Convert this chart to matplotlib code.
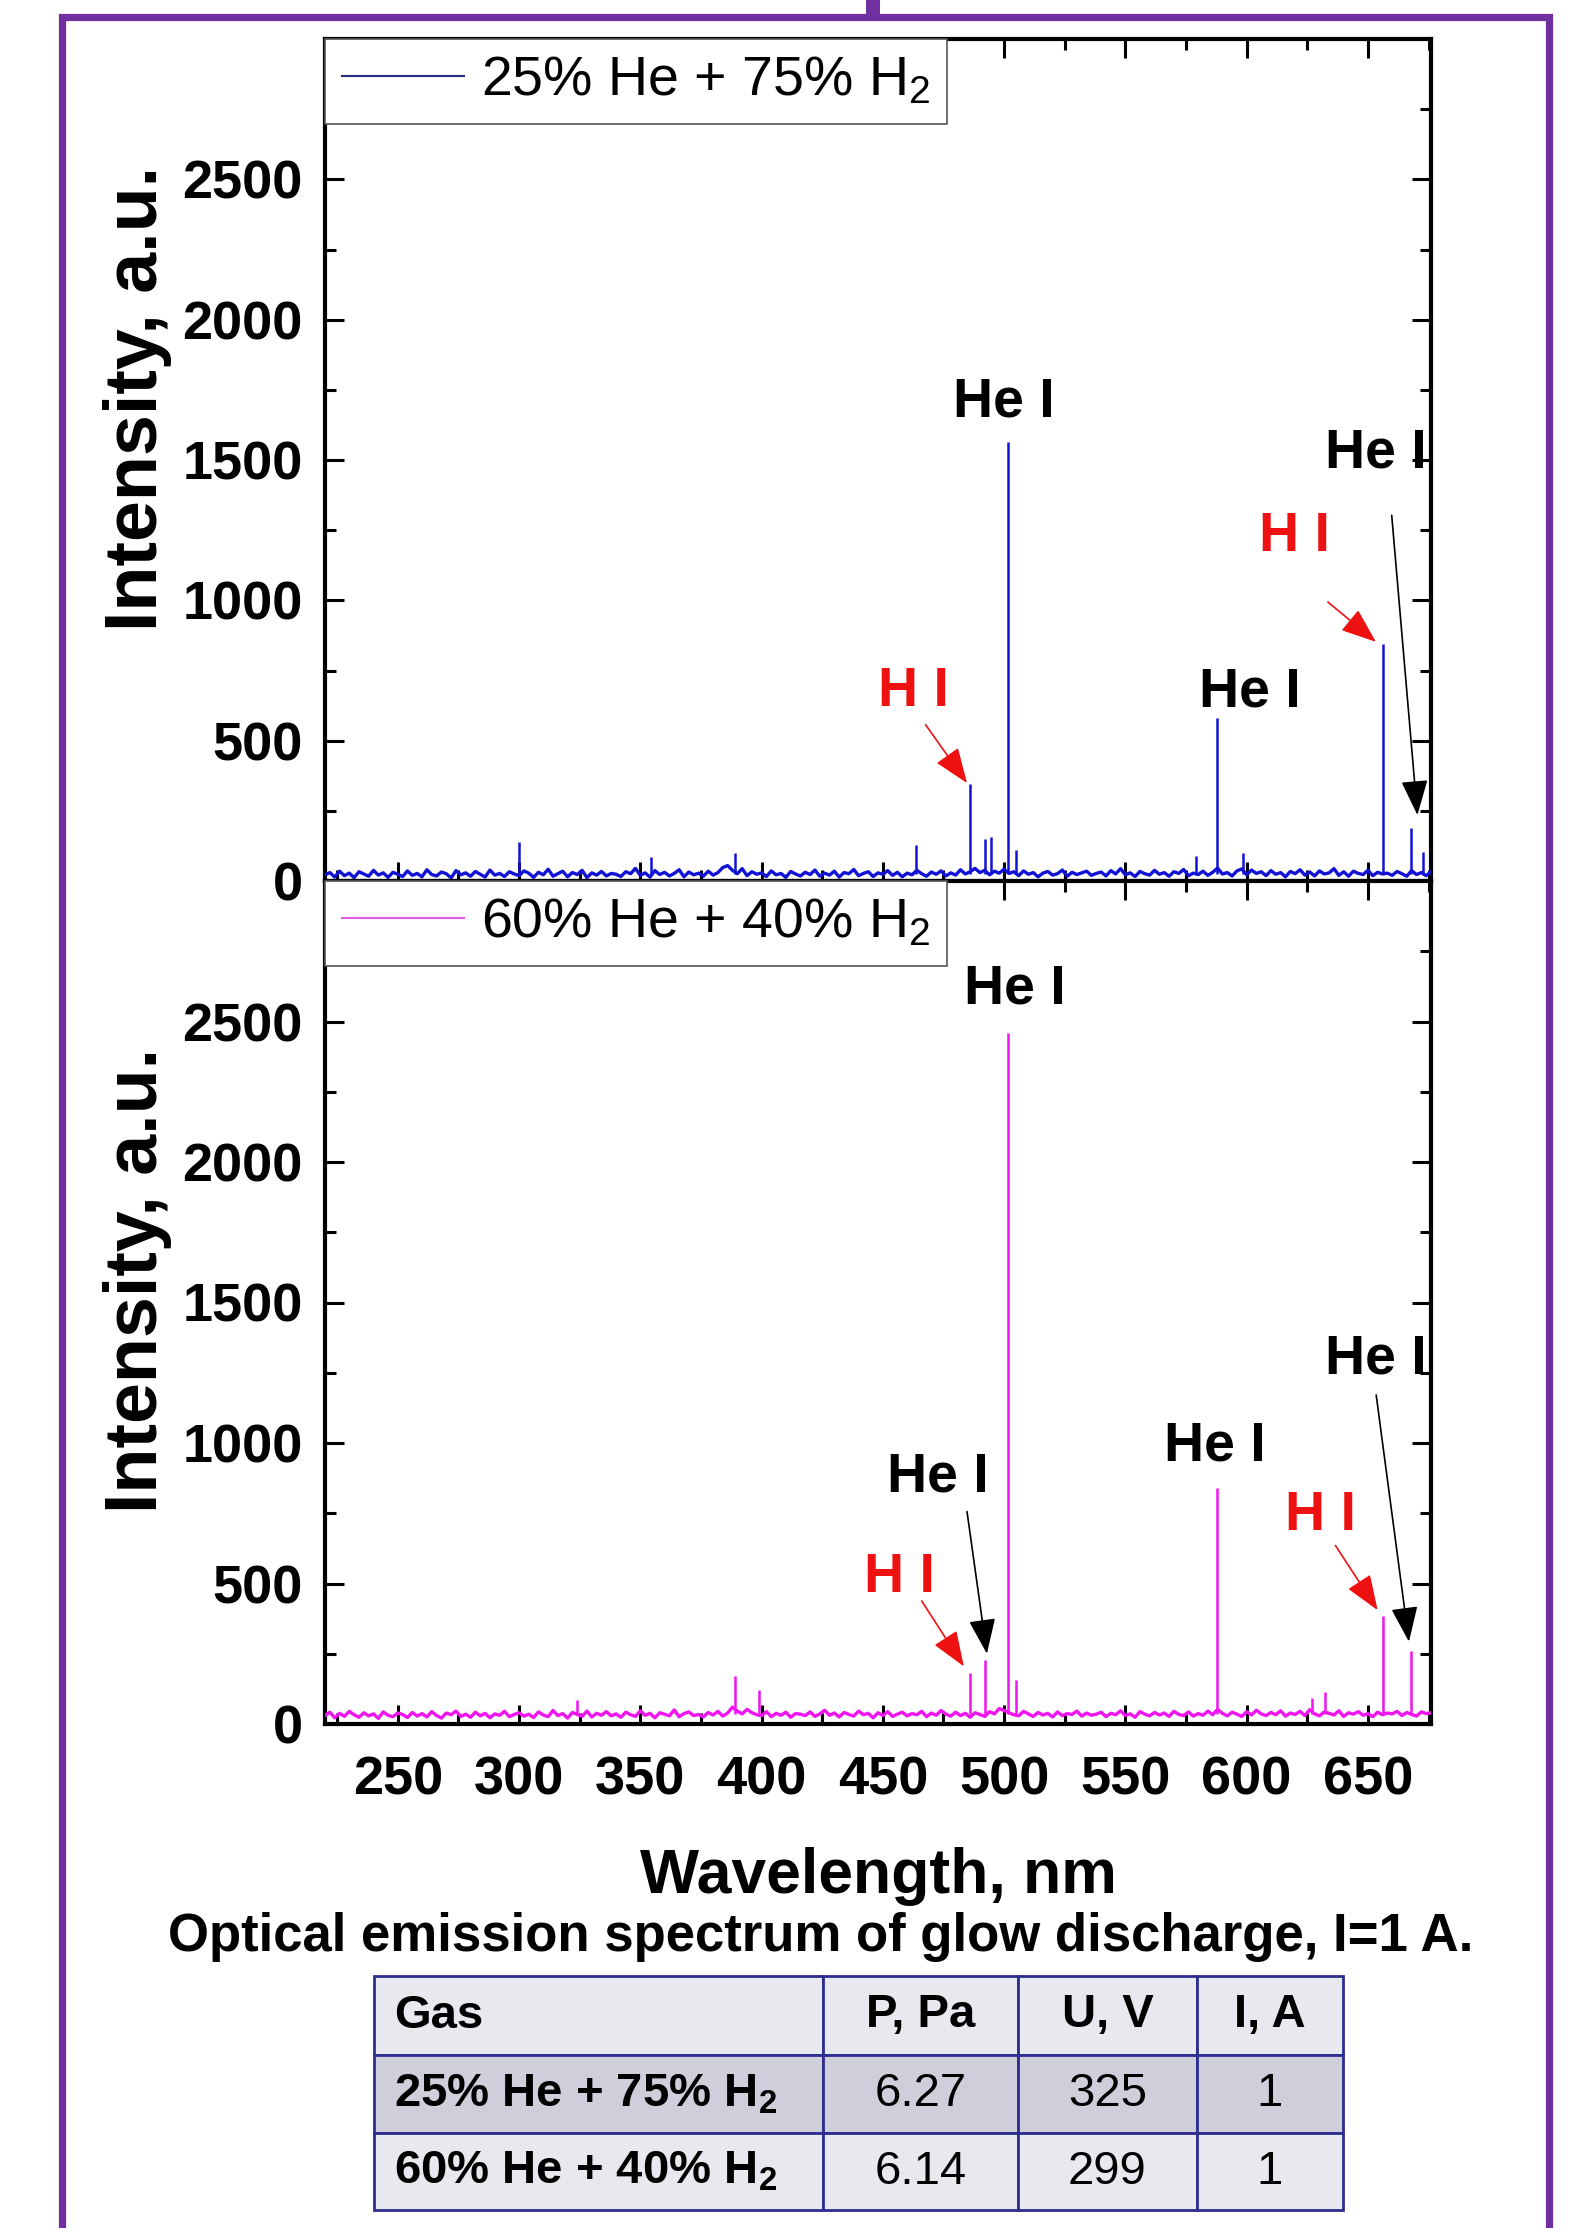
"""Optical emission spectra of a He/H2 glow discharge, two gas mixtures."""

import numpy as np
import matplotlib

matplotlib.use("Agg")
import matplotlib.pyplot as plt
from matplotlib.lines import Line2D
from matplotlib.patches import Rectangle

plt.rcParams["font.family"] = ["Liberation Sans", "DejaVu Sans"]
plt.rcParams["mathtext.fontset"] = "custom"
plt.rcParams["mathtext.rm"] = "Liberation Sans"
plt.rcParams["mathtext.bf"] = "Liberation Sans:bold"
plt.rcParams["mathtext.it"] = "Liberation Sans:italic"

# ---------------------------------------------------------------- data
baseline_nm = np.arange(220, 678, 2)

top_baseline = [
    22, 30, 14, 35, 19, 28, 12, 33, 25, 17, 38, 21, 29, 13, 31, 24, 16, 36, 20, 27,
    15, 40, 23, 18, 32, 26, 11, 37, 22, 29, 17, 34, 24, 14, 39, 21, 27, 16, 33, 25,
    19, 36, 28, 13, 31, 22, 42, 17, 26, 35, 15, 30, 23, 38, 12, 29, 21, 34, 18, 27,
    24, 16, 33, 26, 45, 20, 29, 14, 37, 23, 31, 18, 27, 40, 15, 32, 22, 28, 17, 35,
    21, 30, 48, 55, 38, 26, 44, 19, 33, 24, 29, 16, 36, 22, 27, 13, 34, 25, 18, 31,
    23, 39, 17, 28, 21, 35, 14, 30, 26, 41, 19, 27, 33, 16, 29, 24, 37, 20, 31, 15,
    28, 22, 38, 26, 17, 32, 24, 36, 18, 29, 21, 40, 25, 33, 45, 30, 38, 22, 35, 28,
    42, 27, 33, 19, 36, 24, 30, 15, 28, 34, 21, 26, 39, 17, 31, 23, 29, 35, 20, 27,
    32, 18, 37, 25, 44, 22, 29, 16, 34, 26, 21, 38, 24, 30, 17, 33, 27, 41, 19, 28,
    23, 35, 20, 31, 46, 25, 30, 18, 36, 43, 22, 39, 27, 33, 19, 37, 24, 30, 15, 34,
    26, 40, 21, 32, 18, 36, 25, 29, 44, 20, 33, 17, 35, 27, 23, 38, 19, 31, 25, 28,
    20, 34, 26, 17, 37, 23, 30, 19, 33,
]
bottom_baseline = [
    30, 42, 22, 38, 27, 45, 33, 24, 40, 29, 36, 20, 43, 31, 26, 39, 34, 23, 41, 28,
    37, 25, 44, 30, 21, 39, 33, 46, 27, 35, 24, 42, 29, 38, 22, 36, 31, 45, 26, 34,
    40, 28, 35, 23, 43, 32, 26, 48, 30, 37, 21, 41, 34, 27, 46, 25, 38, 31, 44, 29,
    36, 24, 42, 33, 27, 47, 31, 38, 22, 40, 35, 29, 50, 26, 37, 43, 30, 34, 25, 41,
    32, 45, 28, 39, 60, 46, 36, 52, 40, 33, 29, 44, 26, 38, 31, 42, 24, 37, 35, 30,
    43, 27, 36, 49, 31, 39, 25, 41, 34, 28, 46, 33, 38, 22, 40, 30, 44, 27, 35, 42,
    29, 37, 33, 45, 26, 39, 31, 48, 35, 28, 42, 30, 38, 24, 40, 34, 27, 44, 36, 55,
    48, 40, 33, 29, 45, 36, 27, 41, 32, 38, 25, 43, 30, 37, 34, 46, 28, 39, 31, 35,
    42, 26, 38, 33, 47, 30, 36, 24, 44, 35, 29, 41, 32, 39, 27, 45, 34, 30, 43, 28,
    37, 31, 46, 33, 52, 38, 29, 42, 35, 27, 44, 32, 49, 36, 30, 41, 33, 47, 28, 39,
    34, 45, 30, 51, 36, 29, 43, 38, 32, 47, 27, 40, 35, 44, 31, 37, 26, 42, 33, 39,
    36, 45, 30, 41, 34, 28, 43, 37, 40,
]

# emission lines standing above the noise floor
top_floor = 25
top_peak_nm = [300.0, 354.3, 388.9, 463.5, 486.1, 492.2, 494.5, 501.6, 504.8,
               579.0, 587.6, 598.5, 656.3, 667.8, 672.5]
top_peak_int = [140, 85, 100, 130, 345, 150, 155, 1565, 110,
                90, 580, 100, 845, 190, 105]

bottom_floor = 35
bottom_peak_nm = [324.0, 388.9, 398.8, 486.1, 492.2, 501.6, 504.8, 587.6,
                  627.0, 632.5, 656.3, 667.8]
bottom_peak_int = [85, 170, 120, 180, 228, 2460, 155, 840,
                   92, 115, 385, 260]

# (text, x nm, y intensity, is hydrogen)
top_labels = [("H I", 462.8, 673, True), ("He I", 499.7, 1706, False),
              ("He I", 601.1, 673, False), ("H I", 619.9, 1225, True),
              ("He I", 653.2, 1523, False)]
bottom_labels = [("He I", 504.4, 2613, False), ("He I", 587.0, 987, False),
                 ("He I", 472.8, 876, False), ("H I", 456.9, 521, True),
                 ("H I", 630.4, 739, True), ("He I", 653.2, 1296, False)]

# (tail nm, tail int, head nm, head int, is hydrogen)
top_arrows = [(467.6, 557, 484.7, 349, True), (633.5, 994, 653.3, 852, True),
              (659.8, 1303, 670.4, 235, False)]
bottom_arrows = [(484.7, 756, 492.9, 250, False), (466.0, 438, 483.4, 205, True),
                 (636.6, 635, 654.0, 405, True), (653.4, 1171, 666.9, 293, False)]

series_names = [r"25% He + 75% H$_2$", r"60% He + 40% H$_2$"]

table_header = ["Gas", "P, Pa", "U, V", "I, A"]
table_gas = [r"25% He + 75% H$_\mathbf{2}$", r"60% He + 40% H$_\mathbf{2}$"]
table_pressure = ["6.27", "6.14"]
table_voltage = ["325", "299"]
table_current = ["1", "1"]

# ---------------------------------------------------------------- style
W, H = 1589, 2228
BLUE = "#1212d6"
BLUE_LEG = "#2a2a80"
MAGENTA = "#f014f0"
MAGENTA_LEG = "#e45ee4"
RED = "#ee1111"
PURPLE = "#7030a0"
EDGE = "#2e2e90"


def px_box(left, top, right, bottom):
    return [left / W, 1 - bottom / H, (right - left) / W, (bottom - top) / H]


fig = plt.figure(figsize=(W / 100, H / 100), dpi=100)
fig.patch.set_facecolor("white")

# purple slide frame
bg = fig.add_axes([0, 0, 1, 1], zorder=-5)
bg.set_xlim(0, W)
bg.set_ylim(H, 0)
bg.axis("off")
bg.plot([61.5, 61.5, 1548.5, 1548.5], [H + 10, 16.5, 16.5, H + 10],
        color=PURPLE, lw=5.2, solid_joinstyle="miter")
bg.add_patch(Rectangle((866, 0), 14, 16, color=PURPLE, lw=0))


def style_axes(ax, show_xlabels):
    ax.set_xlim(220, 676)
    ax.set_ylim(0, 3000)
    ax.set_yticks([0, 500, 1000, 1500, 2000, 2500],
                  labels=["0", "500", "1000", "1500", "2000", "2500"],
                  fontsize=39, fontweight="bold")
    ax.set_yticks([250, 750, 1250, 1750, 2250, 2750], minor=True)
    xt = [250, 300, 350, 400, 450, 500, 550, 600, 650]
    ax.set_xticks(xt, labels=[str(v) for v in xt], fontsize=39, fontweight="bold")
    ax.set_xticks(np.arange(225, 676, 50), minor=True)
    ax.tick_params(which="both", direction="in", top=True, right=True,
                   width=2.2, labelbottom=show_xlabels)
    ax.tick_params(which="major", length=14)
    ax.tick_params(which="minor", length=8)
    ax.tick_params(axis="y", pad=16)
    ax.tick_params(axis="x", pad=23)
    for sp in ax.spines.values():
        sp.set_linewidth(3)


def draw_panel(ax, baseline, floor, peak_nm, peak_int, color, leg_color, name,
               labels, arrows):
    ax.plot(baseline_nm, baseline, color=color, lw=2.4, zorder=3)
    ax.vlines(peak_nm, floor, peak_int, color=color, lw=1.8, zorder=3)
    for text, x, y, is_h in labels:
        ax.text(x, y, text, ha="center", va="center", fontsize=40,
                fontweight="bold", color=RED if is_h else "black", zorder=5)
    for x0, y0, x1, y1, is_h in arrows:
        ax.annotate("", xy=(x1, y1), xytext=(x0, y0),
                    arrowprops=dict(arrowstyle="-|>,head_length=1.1,head_width=0.42",
                                    mutation_scale=20, lw=1.2,
                                    color=RED if is_h else "black",
                                    shrinkA=0, shrinkB=0), zorder=5)
    handle = Line2D([], [], color=leg_color, lw=1.5)
    leg = ax.legend([handle], [name], loc="upper left", bbox_to_anchor=(0, 1),
                    borderaxespad=0, fancybox=False, framealpha=1,
                    edgecolor="#555555", fontsize=40, handlelength=2.2,
                    handletextpad=0.3, borderpad=0.3)
    leg.get_frame().set_linewidth(1.2)
    leg.set_zorder(6)


ax_top = fig.add_axes(px_box(325, 39, 1431, 881))
ax_bot = fig.add_axes(px_box(325, 881, 1431, 1724))
style_axes(ax_top, False)
style_axes(ax_bot, True)

draw_panel(ax_top, top_baseline, top_floor, top_peak_nm, top_peak_int,
           BLUE, BLUE_LEG, series_names[0], top_labels, top_arrows)
draw_panel(ax_bot, bottom_baseline, bottom_floor, bottom_peak_nm,
           bottom_peak_int, MAGENTA, MAGENTA_LEG, series_names[1],
           bottom_labels, bottom_arrows)

for yc in (398, 1280):
    fig.text(137 / W, 1 - yc / H, "Intensity, a.u.", rotation=90, ha="center",
             va="center", fontsize=53, fontweight="bold")
fig.text(878 / W, 1 - 1876 / H, "Wavelength, nm", ha="center", va="center",
         fontsize=45, fontweight="bold")
fig.text(821 / W, 1 - 1937 / H,
         "Optical emission spectrum of glow discharge, I=1 A.",
         ha="center", va="center", fontsize=38, fontweight="bold")

# ---------------------------------------------------------------- table
col_edges = [374, 823, 1018, 1197, 1343]
row_edges = [1976, 2055, 2133, 2210]
row_fill = ["#e8e8ef", "#cfcfdc", "#e8e8ef"]

tab = fig.add_axes(px_box(col_edges[0] - 3, row_edges[0] - 3,
                          col_edges[-1] + 3, row_edges[-1] + 3))
tab.set_xlim(col_edges[0] - 3, col_edges[-1] + 3)
tab.set_ylim(row_edges[-1] + 3, row_edges[0] - 3)
tab.axis("off")

rows = [table_header] + [
    [g, p, u, i] for g, p, u, i in zip(table_gas, table_pressure,
                                        table_voltage, table_current)
]
for r, row in enumerate(rows):
    y0, y1 = row_edges[r], row_edges[r + 1]
    for c, cell in enumerate(row):
        x0, x1 = col_edges[c], col_edges[c + 1]
        tab.add_patch(Rectangle((x0, y0), x1 - x0, y1 - y0,
                                facecolor=row_fill[r], edgecolor=EDGE, lw=2))
        bold = r == 0 or c == 0
        if c == 0:
            tab.text(x0 + 20, (y0 + y1) / 2, cell, ha="left", va="center",
                     fontsize=34, fontweight="bold" if bold else "normal")
        else:
            tab.text((x0 + x1) / 2, (y0 + y1) / 2, cell, ha="center",
                     va="center", fontsize=34,
                     fontweight="bold" if bold else "normal")

fig.savefig("out.png", dpi=100, facecolor="white")
